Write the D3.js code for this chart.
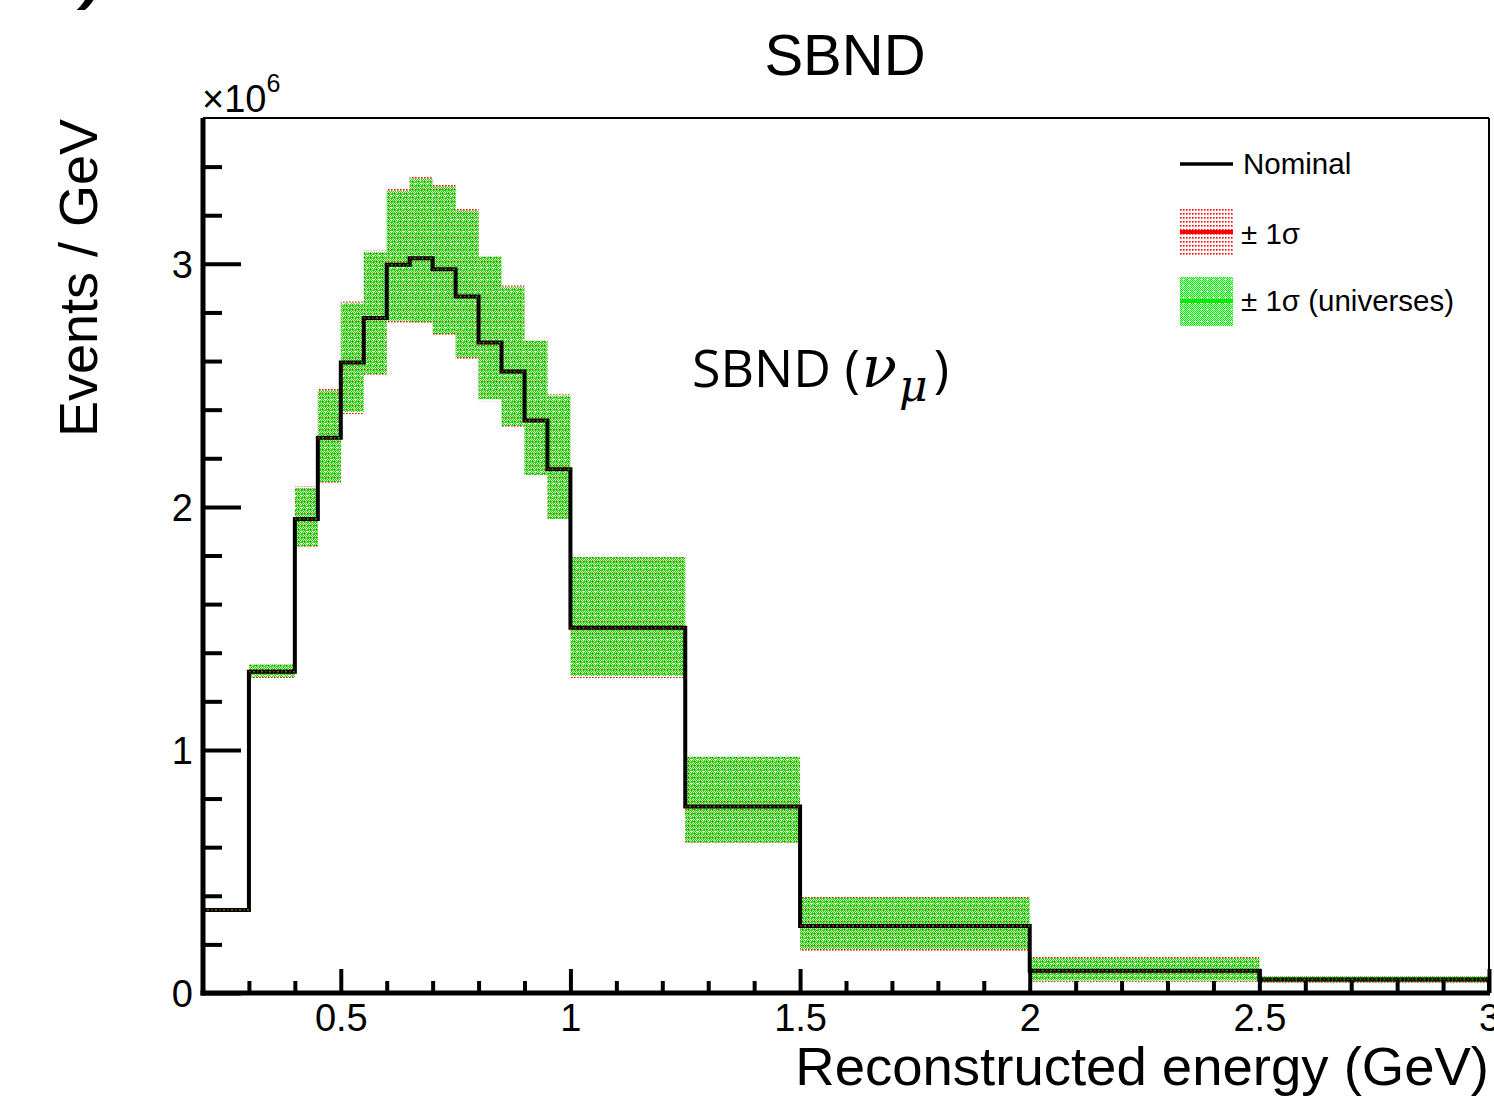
<!DOCTYPE html>
<html>
<head>
<meta charset="utf-8">
<script src="https://cdn.jsdelivr.net/npm/d3@7"></script>
<style>
  html, body { margin: 0; padding: 0; background: #fff; }
  svg { display: block; }
  text { font-family: "Liberation Sans", Arial, Helvetica, sans-serif; fill: #000; }
</style>
</head>
<body>
<svg id="chart" width="1494" height="1102"></svg>
<script>
// ---------------- data ----------------
const binEdges = [0.2, 0.3, 0.4, 0.45, 0.5, 0.55, 0.6, 0.65, 0.7, 0.75, 0.8, 0.85, 0.9, 0.95, 1.0, 1.25, 1.5, 2.0, 2.5, 3.0];
// Events / GeV in units of 1e6
const nominal   = [0.342, 1.322, 1.95, 2.284, 2.594, 2.777, 2.996, 3.023, 2.978, 2.866, 2.676, 2.557, 2.355, 2.155, 1.503, 0.767, 0.276, 0.092, 0.056];
const sigmaHigh = [0.346, 1.356, 2.085, 2.485, 2.845, 3.055, 3.308, 3.357, 3.325, 3.226, 3.037, 2.911, 2.691, 2.465, 1.800, 0.979, 0.400, 0.149, 0.072];
const sigmaLow  = [0.338, 1.296, 1.830, 2.095, 2.382, 2.538, 2.758, 2.752, 2.703, 2.607, 2.435, 2.325, 2.123, 1.942, 1.296, 0.612, 0.173, 0.046, 0.040];
const univHigh  = [0.345, 1.352, 2.078, 2.478, 2.838, 3.048, 3.300, 3.350, 3.318, 3.219, 3.030, 2.904, 2.684, 2.458, 1.793, 0.972, 0.393, 0.143, 0.069];
const univLow   = [0.339, 1.300, 1.838, 2.103, 2.390, 2.546, 2.766, 2.760, 2.711, 2.615, 2.443, 2.333, 2.131, 1.950, 1.304, 0.619, 0.180, 0.051, 0.043];

const xMajorTicks = [0.5, 1, 1.5, 2, 2.5, 3];
const xMajorLabels = ["0.5", "1", "1.5", "2", "2.5", "3"];
const xMinorTicks = [0.3, 0.4, 0.6, 0.7, 0.8, 0.9, 1.1, 1.2, 1.3, 1.4, 1.6, 1.7, 1.8, 1.9, 2.1, 2.2, 2.3, 2.4, 2.6, 2.7, 2.8, 2.9];
const yMajorTicks = [0, 1, 2, 3];
const yMajorLabels = ["0", "1", "2", "3"];
const yMinorTicks = [0.2, 0.4, 0.6, 0.8, 1.2, 1.4, 1.6, 1.8, 2.2, 2.4, 2.6, 2.8, 3.2, 3.4];

const legendLabels = ["Nominal", "\u00B1 1\u03C3", "\u00B1 1\u03C3 (universes)"];

// ---------------- layout ----------------
const svg = d3.select("#chart");
const X0 = 203, X1 = 1489, Y0 = 993, Y1 = 118;
const x = d3.scaleLinear().domain([0.2, 3.0]).range([X0, X1]);
const y = d3.scaleLinear().domain([0, 3.6]).range([Y0, Y1]);

// patterns
const defs = svg.append("defs");
const pr = defs.append("pattern").attr("id", "redPat").attr("patternUnits", "userSpaceOnUse")
  .attr("width", 3).attr("height", 4);
pr.append("rect").attr("x", 1).attr("y", 1).attr("width", 1.6).attr("height", 1.6).attr("fill", "#ff0000");

const pg = defs.append("pattern").attr("id", "greenPat").attr("patternUnits", "userSpaceOnUse")
  .attr("width", 6).attr("height", 6);
// green dot lattice leaving small white/red holes (ROOT-like hatch)
[[0,0],[2,0],[4,0],[1,1],[3,1],[5,1],[0,2],[2,2],[4,2],[3,3],[5,3],[0,4],[2,4],[4,4],[1,5],[3,5],[5,5]]
  .forEach(([a,b]) => pg.append("rect").attr("x", a).attr("y", b).attr("width", 1.15).attr("height", 1.15).attr("fill", "#00e600"));

// ---------------- bands ----------------
const bins = nominal.map((v, i) => ({
  x0: binEdges[i], x1: binEdges[i + 1], v,
  sh: sigmaHigh[i], sl: sigmaLow[i], uh: univHigh[i], ul: univLow[i]
}));

const g = svg.append("g");
g.selectAll("rect.red").data(bins).join("rect").attr("class", "red")
  .attr("x", d => x(d.x0)).attr("width", d => x(d.x1) - x(d.x0))
  .attr("y", d => y(d.sh)).attr("height", d => Math.max(1.5, y(d.sl) - y(d.sh)))
  .attr("fill", "url(#redPat)");
g.selectAll("rect.green").data(bins).join("rect").attr("class", "green")
  .attr("x", d => x(d.x0)).attr("width", d => x(d.x1) - x(d.x0))
  .attr("y", d => y(d.uh)).attr("height", d => Math.max(1.5, y(d.ul) - y(d.uh)))
  .attr("fill", "url(#greenPat)");

// ---------------- nominal histogram ----------------
const stepPts = [];
stepPts.push([x(binEdges[0]), y(nominal[0])]);
bins.forEach(d => { stepPts.push([x(d.x0), y(d.v)]); stepPts.push([x(d.x1), y(d.v)]); });
stepPts.push([x(binEdges[binEdges.length - 1]), y(0)]);
const line = d3.line();
g.append("path").attr("d", line(stepPts)).attr("fill", "none")
  .attr("stroke", "#000").attr("stroke-width", 4).attr("stroke-linejoin", "miter");

// band central lines (dotted, drawn over nominal)
bins.forEach(d => {
  g.append("line").attr("x1", x(d.x0)).attr("x2", x(d.x1)).attr("y1", y(d.v)).attr("y2", y(d.v))
    .attr("stroke", "#c00000").attr("stroke-width", 1.6).attr("stroke-dasharray", "2,6");
  g.append("line").attr("x1", x(d.x0) + 4).attr("x2", x(d.x1)).attr("y1", y(d.v)).attr("y2", y(d.v))
    .attr("stroke", "#00a000").attr("stroke-width", 1.6).attr("stroke-dasharray", "2,6");
});

// ---------------- frame & axes ----------------
svg.append("line").attr("x1", X0).attr("x2", X1).attr("y1", Y1).attr("y2", Y1)
  .attr("stroke", "#000").attr("stroke-width", 2);
svg.append("line").attr("x1", X1).attr("x2", X1).attr("y1", Y1).attr("y2", Y0)
  .attr("stroke", "#000").attr("stroke-width", 2);

function styleAxis(sel, w) {
  sel.select(".domain").remove();
  sel.selectAll(".tick line").attr("stroke", "#000").attr("stroke-width", w);
}

const xMaj = svg.append("g").attr("transform", `translate(0,${Y0})`)
  .call(d3.axisBottom(x).tickValues(xMajorTicks).tickSize(-24)
    .tickFormat((d, i) => xMajorLabels[i]));
styleAxis(xMaj, 4);
xMaj.selectAll(".tick text").attr("font-size", 38).attr("dy", 0).attr("y", 38)
  .attr("font-family", "Liberation Sans, Arial, sans-serif");
const xMin = svg.append("g").attr("transform", `translate(0,${Y0})`)
  .call(d3.axisBottom(x).tickValues(xMinorTicks).tickSize(-12).tickFormat(""));
styleAxis(xMin, 4);

const yMaj = svg.append("g").attr("transform", `translate(${X0},0)`)
  .call(d3.axisLeft(y).tickValues(yMajorTicks).tickSize(-38)
    .tickFormat((d, i) => yMajorLabels[i]));
styleAxis(yMaj, 4);
yMaj.selectAll(".tick text").attr("font-size", 38).attr("dy", "0.35em").attr("x", -10)
  .attr("font-family", "Liberation Sans, Arial, sans-serif");
const yMin = svg.append("g").attr("transform", `translate(${X0},0)`)
  .call(d3.axisLeft(y).tickValues(yMinorTicks).tickSize(-19).tickFormat(""));
styleAxis(yMin, 4);

// thick axis lines
svg.append("line").attr("x1", X0).attr("x2", X0).attr("y1", Y1).attr("y2", Y0 + 2.5)
  .attr("stroke", "#000").attr("stroke-width", 5);
svg.append("line").attr("x1", X0 - 2.5).attr("x2", X1 + 1).attr("y1", Y0).attr("y2", Y0)
  .attr("stroke", "#000").attr("stroke-width", 5);

// ---------------- texts ----------------
svg.append("text").attr("x", 845).attr("y", 75).attr("text-anchor", "middle")
  .attr("font-size", 58).text("SBND");

const mult = svg.append("text").attr("x", 202).attr("y", 112).attr("font-size", 38);
mult.append("tspan").text("\u00D710");
mult.append("tspan").attr("font-size", 25).attr("dy", -20).text("6");

svg.append("text").attr("transform", "translate(97,278) rotate(-90)")
  .attr("text-anchor", "middle").attr("font-size", 54).text("Events / GeV");

svg.append("text").attr("x", 1489).attr("y", 1085).attr("text-anchor", "end")
  .attr("font-size", 54.5).text("Reconstructed energy (GeV)");

const ann = svg.append("text").attr("x", 692).attr("y", 387)
  .attr("font-size", 52).style("font-family", "'Open Sans', 'Noto Sans', sans-serif");
ann.append("tspan").text("SBND (");
ann.append("tspan").attr("font-style", "italic").style("font-family", "'DejaVu Serif', serif").attr("font-size", 58).attr("dx", 2).text("\u03BD");
ann.append("tspan").attr("font-style", "italic").style("font-family", "'DejaVu Serif', serif").attr("font-size", 44).attr("dx", 2).attr("dy", 14).text("\u03BC");
ann.append("tspan").attr("dy", -14).attr("dx", 6).text(")");

// cut-off panel label fragment at top-left
svg.append("text").attr("x", 82).attr("y", -2).attr("font-size", 60)
  .attr("font-weight", "bold").attr("font-style", "italic").text(")");

// ---------------- legend ----------------
const lg = svg.append("g");
const lx = 1180, lw = 53;
lg.append("line").attr("x1", lx).attr("x2", lx + lw).attr("y1", 164).attr("y2", 164)
  .attr("stroke", "#000").attr("stroke-width", 3.5);
lg.append("rect").attr("x", lx).attr("y", 208).attr("width", lw).attr("height", 49).attr("fill", "url(#redPat)");
lg.append("line").attr("x1", lx).attr("x2", lx + lw).attr("y1", 232).attr("y2", 232)
  .attr("stroke", "#ff0000").attr("stroke-width", 4);
lg.append("rect").attr("x", lx).attr("y", 277).attr("width", lw).attr("height", 49).attr("fill", "url(#greenPat)");
lg.append("line").attr("x1", lx).attr("x2", lx + lw).attr("y1", 301).attr("y2", 301)
  .attr("stroke", "#00ee00").attr("stroke-width", 4);
const legY = [164, 234, 301];
lg.selectAll("text.leg").data(legendLabels).join("text").attr("class", "leg")
  .attr("x", (d, i) => i === 0 ? 1243 : 1241).attr("y", (d, i) => legY[i]).attr("dy", "0.35em")
  .attr("font-size", 29.5).text(d => d);
</script>
</body>
</html>
